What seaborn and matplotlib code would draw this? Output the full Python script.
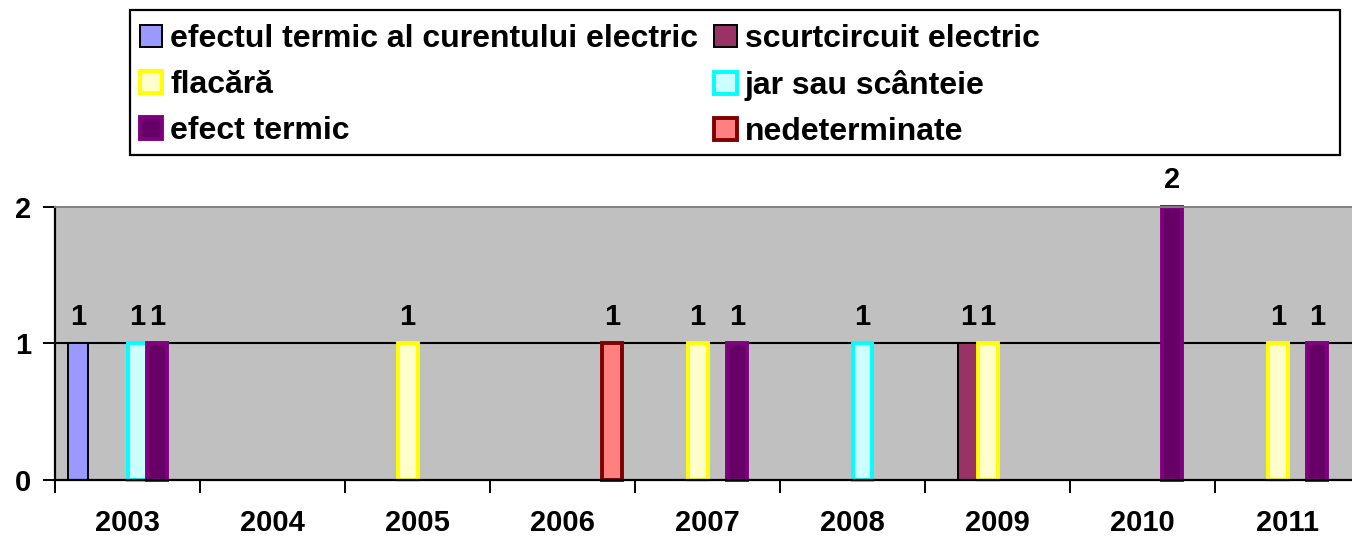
import pandas as pd
import matplotlib.pyplot as plt
import seaborn as sns
from matplotlib.patches import Patch, Rectangle

years = ['2003', '2004', '2005', '2006', '2007', '2008', '2009', '2010', '2011']
causes = ['efectul termic al curentului electric', 'scurtcircuit electric',
          'flacără', 'jar sau scânteie', 'efect termic', 'nedeterminate']

# counts per cause, one value per year
efectul_termic_curent = [1, 0, 0, 0, 0, 0, 0, 0, 0]
scurtcircuit = [0, 0, 0, 0, 0, 0, 1, 0, 0]
flacara = [0, 0, 1, 0, 1, 0, 1, 0, 1]
jar_scanteie = [1, 0, 0, 0, 0, 1, 0, 0, 0]
efect_termic = [1, 0, 0, 0, 1, 0, 0, 2, 1]
nedeterminate = [0, 0, 0, 1, 0, 0, 0, 0, 0]

series = [efectul_termic_curent, scurtcircuit, flacara, jar_scanteie,
          efect_termic, nedeterminate]

face_colors = ['#9999FF', '#993366', '#FFFFCC', '#CCFFFF', '#660066', '#FF8080']
edge_colors = ['#000000', '#000000', '#FFFF00', '#00FFFF', '#800080', '#800000']
edge_widths = [1.4, 1.4, 2.8, 2.8, 2.8, 2.8]

rows = []
for cause, vals in zip(causes, series):
    for yr, v in zip(years, vals):
        rows.append({'An': yr, 'Cauza': cause, 'Numar': v})
df = pd.DataFrame(rows)

sns.set_style('white')
plt.rcParams['font.family'] = ['Liberation Sans', 'DejaVu Sans']
plt.rcParams['font.weight'] = 'bold'
plt.rcParams['text.color'] = 'black'
plt.rcParams['xtick.color'] = 'black'
plt.rcParams['ytick.color'] = 'black'

fig = plt.figure(figsize=(13.52, 5.39), dpi=100)
ax = fig.add_axes([0.0407, 0.1095, 0.9653, 0.5065])

sns.barplot(data=df, x='An', y='Numar', hue='Cauza', order=years,
            hue_order=causes, palette=face_colors, width=0.82,
            saturation=1, legend=False, ax=ax)

for cont, ec, lw in zip(ax.containers, edge_colors, edge_widths):
    for bar in cont:
        bar.set_edgecolor(ec)
        bar.set_linewidth(lw)
        bar.set_clip_on(False)
        if bar.get_height() == 0:
            bar.set_visible(False)
    labels = [f'{int(b.get_height())}' if b.get_height() > 0 else '' for b in cont]
    ax.bar_label(cont, labels=labels, padding=9, fontsize=21,
                 fontweight='bold', color='black')

ax.set_facecolor('#C0C0C0')
ax.set_xlim(-0.5, len(years) - 0.5)
ax.set_ylim(0, 2)
ax.set_yticks([0, 1, 2])
ax.set_yticklabels(['0', '1', '2'], fontsize=21, fontweight='bold')
ax.axhline(1, color='black', linewidth=1.5, zorder=0.5)

ax.set_xticks([i - 0.5 for i in range(len(years) + 1)])
ax.set_xticklabels([])
ax.set_xticks(range(len(years)), minor=True)
ax.set_xticklabels(years, minor=True, fontsize=21, fontweight='bold')
ax.tick_params(axis='x', which='major', direction='out', length=9, width=1.4,
               color='black', bottom=True)
ax.tick_params(axis='x', which='minor', length=0, pad=21)
ax.tick_params(axis='y', direction='out', length=9, width=1.4, color='black',
               left=True, pad=8)
ax.set_xlabel('')
ax.set_ylabel('')

for side in ['left', 'bottom']:
    ax.spines[side].set_color('black')
    ax.spines[side].set_linewidth(1.6)
for side in ['top', 'right']:
    ax.spines[side].set_color('#808080')
    ax.spines[side].set_linewidth(1.4)

handles = [Patch(facecolor=fc, edgecolor=ec, linewidth=lw)
           for fc, ec, lw in zip(face_colors, edge_colors, edge_widths)]
order = [0, 2, 4, 1, 3, 5]
fig.legend([handles[i] for i in order], [causes[i] for i in order],
           ncol=2, loc='upper left', bbox_to_anchor=(140 / 1352, 1 - 24 / 539),
           frameon=False, handlelength=0.7, handleheight=0.7,
           handletextpad=0.25, columnspacing=0.5, labelspacing=0.5,
           borderpad=0, borderaxespad=0,
           prop={'weight': 'bold', 'size': 23})

fig.patches.append(Rectangle((130 / 1352, 1 - 155 / 539), 1210 / 1352, 145 / 539,
                             transform=fig.transFigure, facecolor='none',
                             edgecolor='black', linewidth=1.6))

fig.savefig('out.png', dpi=100)
